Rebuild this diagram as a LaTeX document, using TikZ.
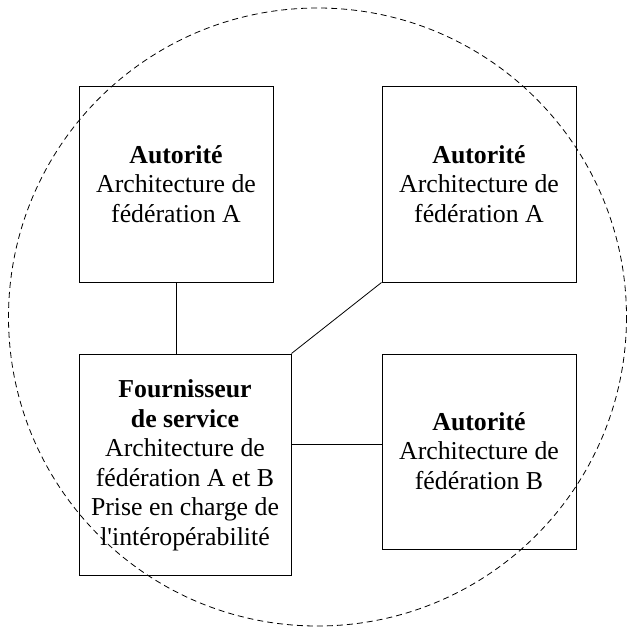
\documentclass[tikz,border=0pt]{standalone}
\usepackage{fontspec}
\setmainfont{Liberation Serif}[Ligatures=TeXOff]
\begin{document}
\begin{tikzpicture}[x=1pt,y=-1pt,
  box/.style={draw=black,line width=1pt,rectangle,inner sep=0pt},
  txt/.style={inner sep=0pt,align=center,anchor=base,font=\fontsize{25.8}{29.5}\selectfont},
  link/.style={draw=black,line width=0.8pt},
  zone/.style={draw=black,line width=0.8pt,dash pattern=on 6pt off 4pt}]
\useasboundingbox (0,0) rectangle (627,635);
\draw[zone] (317.5,317) ellipse [x radius=309, y radius=309];
\node[box,minimum width=194pt,minimum height=196pt] (tl) at (176,184) {};
\node[box,minimum width=194pt,minimum height=196pt] (tr) at (479,184) {};
\node[box,minimum width=212pt,minimum height=221pt] (bl) at (185,464.5) {};
\node[box,minimum width=194pt,minimum height=195pt] (br) at (479,451.5) {};
\node[txt] (tlt) at (176,222) {\textbf{Autorité}\\Architecture de\\fédération A};
\node[txt] (trt) at (479,222) {\textbf{Autorité}\\Architecture de\\fédération A};
\node[txt] (blt) at (185,545) {\textbf{Fournisseur}\\\textbf{de service}\\Architecture de\\fédération A et B\\Prise en charge de\\l'intéropérabilité};
\node[txt] (brt) at (479,489) {\textbf{Autorité}\\Architecture de\\fédération B};
\draw[link] (tl.south) -- (tl.south |- bl.north);
\draw[link] (tr.south west) -- (bl.north east);
\draw[link] ([yshift=7.5pt]br.west) coordinate (hr) -- (hr -| bl.east);
\end{tikzpicture}
\end{document}
